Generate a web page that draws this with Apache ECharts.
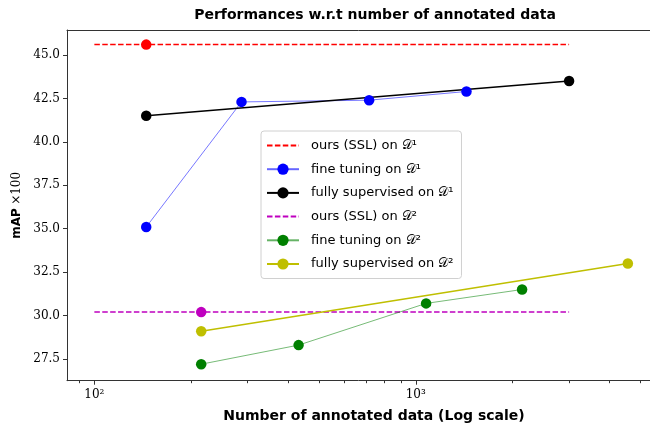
<!DOCTYPE html>
<html><head><meta charset="utf-8">
<script src="https://cdn.jsdelivr.net/npm/echarts@6/dist/echarts.min.js"></script>
<style>html,body{margin:0;padding:0;background:#fff}#c{width:650px;height:430px}</style>
</head><body><div id="c"></div>
<script>
// ---- data ----
const legendNames = ['ours (SSL) on 𝒟¹','fine tuning on 𝒟¹','fully supervised on 𝒟¹','ours (SSL) on 𝒟²','fine tuning on 𝒟²','fully supervised on 𝒟²'];
const sslD1X = [100, 3000];     const sslD1Y = [45.6, 45.6];
const sslD1DotX = [145];        const sslD1DotY = [45.6];
const ftD1X = [145, 287, 716, 1438];   const ftD1Y = [35.1, 42.3, 42.4, 42.9];
const fsD1X = [145, 3000];             const fsD1Y = [41.5, 43.5];
const sslD2X = [100, 3000];     const sslD2Y = [30.2, 30.2];
const sslD2DotX = [215];        const sslD2DotY = [30.2];
const ftD2X = [215, 432, 1077, 2142];  const ftD2Y = [27.2, 28.3, 30.7, 31.5];
const fsD2X = [215, 4570];             const fsD2Y = [29.1, 33.0];
const xMajorTicks = [100, 1000];
const xMinorTicks = [90, 200, 300, 400, 500, 600, 700, 800, 900, 2000, 3000, 4000, 5000];
const yTicks = [27.5, 30.0, 32.5, 35.0, 37.5, 40.0, 42.5, 45.0];

const pts = (xs, ys) => xs.map((x, i) => [x, ys[i]]);
const XMIN = 82.2, XMAX = 5356, YMIN = 26.25, YMAX = 46.44;
const axisCol = '#333';
const serif = 'DejaVu Serif';
const sans = 'DejaVu Sans';

const chart = echarts.init(document.getElementById('c'), null, {renderer: 'canvas'});
function lineSeries(name, data, color, width, dashed, opacity, sym) {
  return {
    name, type: 'line', data, xAxisIndex: 0, yAxisIndex: 0,
    symbol: sym ? 'circle' : 'none', symbolSize: 10.5, showSymbol: !!sym,
    itemStyle: {color: color, opacity: 1},
    lineStyle: {color, width, type: dashed ? [5.5, 2.4] : 'solid', opacity: opacity},
    animation: false, silent: true, z: 3
  };
}
function dotSeries(data, color) {
  return {type: 'scatter', data, symbol: 'circle', symbolSize: 10.5,
    itemStyle: {color, opacity: 1}, animation: false, silent: true, z: 4};
}
const legendData = legendNames.map((n, i) => (i === 0 || i === 3) ? {name: n, itemStyle: {opacity: 0}} : {name: n});
chart.setOption({
  animation: false,
  title: {
    text: 'Performances w.r.t number of annotated data',
    left: 370, top: 3, textAlign: 'center',
    textStyle: {fontFamily: sans, fontWeight: 'bold', fontSize: 14, color: '#000'}
  },
  grid: {left: 67, right: 0, top: 30, bottom: 49.3, containLabel: false},
  legend: {
    data: legendData, orient: 'vertical', left: 261, top: 131,
    padding: [8, 8, 8, 5], itemWidth: 32, itemHeight: 14, itemGap: 10.7,
    backgroundColor: '#fff', borderColor: '#d0d0d0', borderWidth: 1, borderRadius: 3,
    textStyle: {fontFamily: sans, fontSize: 13, color: '#000', padding: [0, 0, 0, 7]},
    selectedMode: false
  },
  xAxis: [
    {type: 'log', logBase: 10, min: XMIN, max: XMAX, position: 'bottom',
     name: 'Number of annotated data (Log scale)', nameLocation: 'middle', nameGap: 29,
     nameTextStyle: {fontFamily: sans, fontWeight: 'bold', fontSize: 14, color: '#000', padding: [0, 0, 0, 31]},
     axisLine: {show: true, lineStyle: {color: axisCol, width: 1}},
     axisTick: {show: true, length: 4, lineStyle: {color: axisCol}, customValues: xMajorTicks},
     axisLabel: {show: true, customValues: xMajorTicks, margin: 8,
       fontFamily: serif, fontSize: 12, color: '#000',
       formatter: v => (Math.round(Math.log10(v)) === 2 ? '10²' : '10³')},
     splitLine: {show: false}, minorTick: {show: false}},
    {type: 'log', logBase: 10, min: XMIN, max: XMAX, position: 'bottom',
     axisLine: {show: false},
     axisTick: {show: true, length: 2.5, lineStyle: {color: axisCol}, customValues: xMinorTicks},
     axisLabel: {show: false}, splitLine: {show: false}},
    {type: 'log', logBase: 10, min: XMIN, max: XMAX, position: 'top',
     axisLine: {show: true, lineStyle: {color: axisCol, width: 1}},
     axisTick: {show: false}, axisLabel: {show: false}, splitLine: {show: false}}
  ],
  yAxis: {
    type: 'value', min: YMIN, max: YMAX,
    name: '{b|mAP} {m|×100}', nameLocation: 'middle', nameGap: 44, nameRotate: 90,
    nameTextStyle: {rich: {
      b: {fontFamily: sans, fontWeight: 'bold', fontSize: 12, color: '#000'},
      m: {fontFamily: serif, fontSize: 12, color: '#000'}}},
    axisLine: {show: true, lineStyle: {color: axisCol, width: 1}},
    axisTick: {show: true, length: 4, lineStyle: {color: axisCol}, customValues: yTicks},
    axisLabel: {customValues: yTicks, margin: 7, fontFamily: serif, fontSize: 12, color: '#000',
      formatter: v => v.toFixed(1)},
    splitLine: {show: false}
  },
  series: [
    lineSeries(legendNames[0], pts(sslD1X, sslD1Y), '#ff0000', 1.5, true, 1, false),
    lineSeries(legendNames[1], pts(ftD1X, ftD1Y), '#0000ff', 0.9, false, 0.6, true),
    lineSeries(legendNames[2], pts(fsD1X, fsD1Y), '#000000', 1.5, false, 1, true),
    lineSeries(legendNames[3], pts(sslD2X, sslD2Y), '#bf00bf', 1.5, true, 1, false),
    lineSeries(legendNames[4], pts(ftD2X, ftD2Y), '#008000', 0.9, false, 0.6, true),
    lineSeries(legendNames[5], pts(fsD2X, fsD2Y), '#bfbf00', 1.5, false, 1, true),
    dotSeries(pts(sslD1DotX, sslD1DotY), '#ff0000'),
    dotSeries(pts(sslD2DotX, sslD2DotY), '#bf00bf')
  ]
});
</script></body></html>
